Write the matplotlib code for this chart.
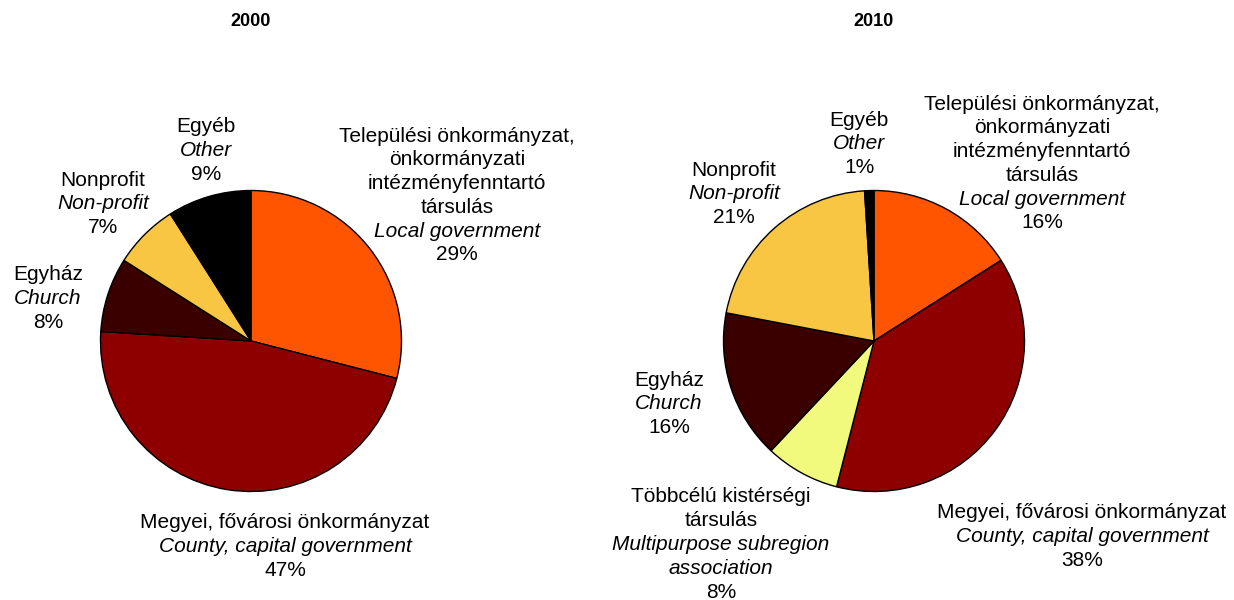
import matplotlib.pyplot as plt

plt.rcParams['font.family'] = ['Liberation Sans', 'DejaVu Sans']

# data
years = ["2000", "2010"]

cats_2000 = ["local", "county", "church", "nonprofit", "other"]
vals_2000 = [29, 47, 8, 7, 9]

cats_2010 = ["local", "county", "multi", "church", "nonprofit", "other"]
vals_2010 = [16, 38, 8, 16, 21, 1]

colors = {
    "local": "#FF5400",
    "county": "#8E0000",
    "church": "#3A0000",
    "nonprofit": "#F9C643",
    "other": "#000000",
    "multi": "#F1FA7C",
}

# label texts: list of (line, italic)
label_lines = {
    "local": [("Települési önkormányzat,", False), ("önkormányzati", False),
              ("intézményfenntartó", False), ("társulás", False),
              ("Local government", True)],
    "county": [("Megyei, fővárosi önkormányzat", False),
               ("County, capital government", True)],
    "church": [("Egyház", False), ("Church", True)],
    "nonprofit": [("Nonprofit", False), ("Non-profit", True)],
    "other": [("Egyéb", False), ("Other", True)],
    "multi": [("Többcélú kistérségi", False), ("társulás", False),
              ("Multipurpose subregion", True), ("association", True)],
}

# layout (pixels in a 1234x600 canvas)
W, H = 1234, 600
centers = [(251, 341), (874, 341)]
radius = 152
line_h = 23.8
label_pos = [
    {"local": (457, 136), "county": (285, 523), "church": (48, 275),
     "nonprofit": (103, 180), "other": (206, 127)},
    {"local": (1042, 104), "county": (1082, 513), "church": (669, 380),
     "nonprofit": (734, 170), "other": (859, 120), "multi": (721, 497)},
]

fig = plt.figure(figsize=(W / 100, H / 100), dpi=100)

for i, (year, cats, vals) in enumerate([(years[0], cats_2000, vals_2000),
                                         (years[1], cats_2010, vals_2010)]):
    cx, cy = centers[i]
    ax = fig.add_axes([(cx - radius) / W, 1 - (cy + radius) / H,
                       2 * radius / W, 2 * radius / H])
    ax.pie(vals, colors=[colors[c] for c in cats], startangle=90,
           counterclock=False, radius=1,
           wedgeprops=dict(edgecolor="black", linewidth=1.0))
    ax.set_xlim(-1.01, 1.01)
    ax.set_ylim(-1.01, 1.01)
    ax.set_aspect("equal")
    ax.axis("off")

    fig.text(cx / W, 1 - 22 / H, year, ha="center", va="center",
             fontsize=13, fontweight="bold")

    for c, v in zip(cats, vals):
        x, y = label_pos[i][c]
        lines = label_lines[c] + [(f"{v}%", False)]
        for k, (txt, it) in enumerate(lines):
            fig.text(x / W, 1 - (y + k * line_h) / H, txt, ha="center",
                     va="center", fontsize=15,
                     style="italic" if it else "normal")

fig.savefig("out.png", dpi=100)
